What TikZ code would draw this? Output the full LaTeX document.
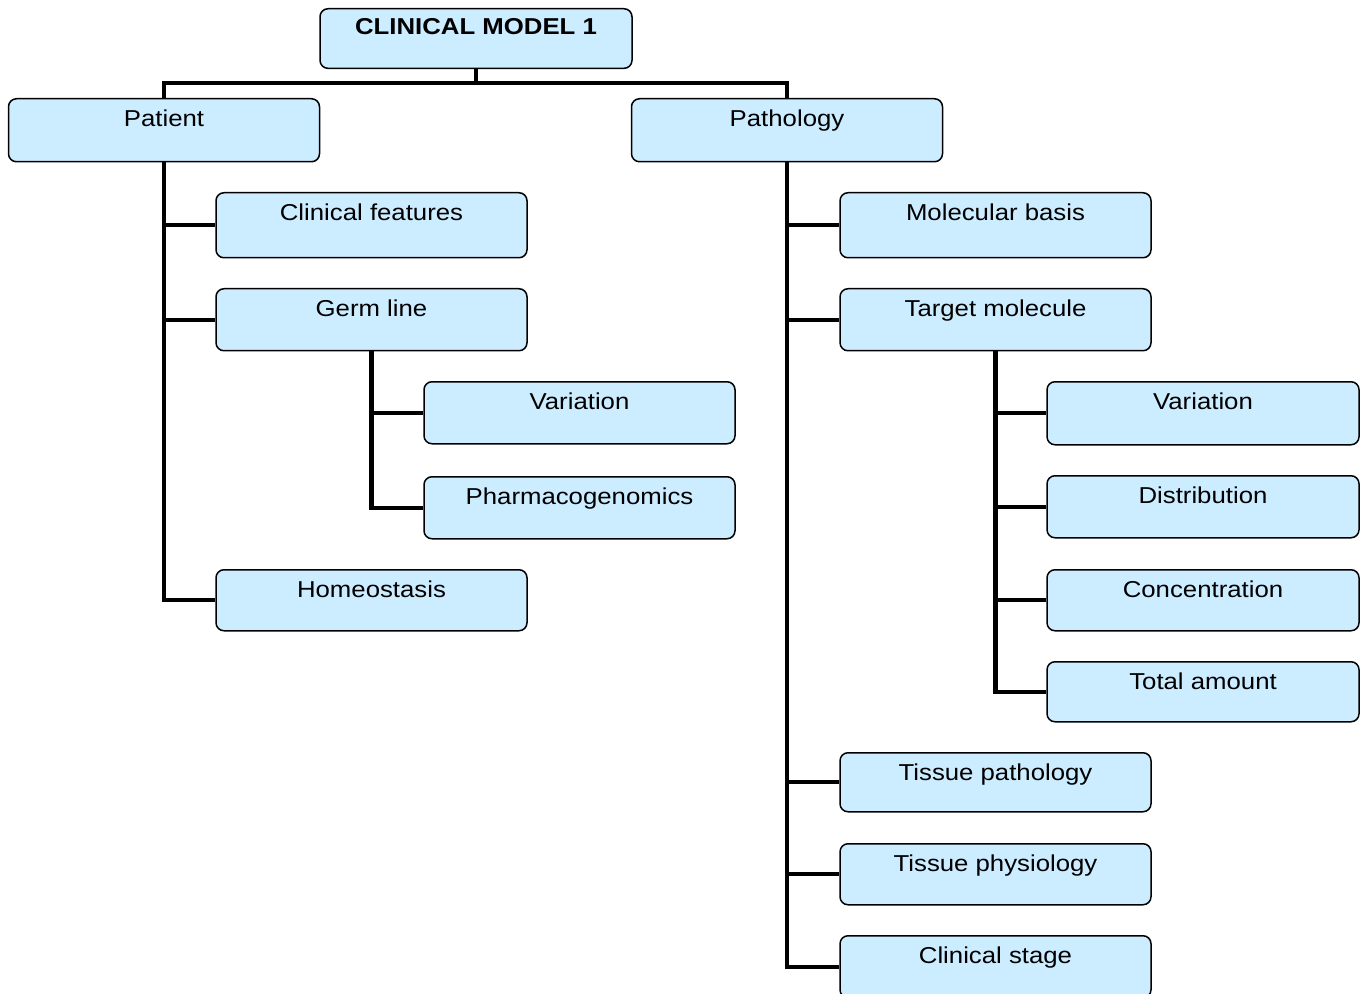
\documentclass[tikz,border=0pt]{standalone}
\usepackage{fontspec}
\setmainfont{Liberation Sans}[FakeStretch=1.12]
\begin{document}
\begin{tikzpicture}[x=0.5pt,y=-0.5pt,
  bx/.style={draw=black, line width=0.75pt, fill=boxfill, rounded corners=4pt,
    minimum width=155.5pt, inner sep=0pt, text height=14pt, text depth=#1, anchor=north,
    font=\fontsize{11.5pt}{13pt}\selectfont},
  bx/.default=17pt,
  ln/.style={line width=2.2pt, line join=miter}]
\definecolor{boxfill}{HTML}{CCECFF}
\useasboundingbox (0,0) rectangle (1369,994);
% boxes
\node[bx=17pt, text height=12.8pt, minimum width=156pt, font=\fontsize{11.5pt}{13pt}\selectfont\bfseries] (top) at (476,8) {CLINICAL MODEL 1};
\node[bx=17.5pt] (patient) at (164,98) {Patient};
\node[bx=17.5pt] (pathology) at (787,98) {Pathology};
\node[bx=18.5pt] (cf) at (371.5,192) {Clinical features};
\node[bx] (germ) at (371.5,288) {Germ line};
\node[bx] (var1) at (579.5,381) {Variation};
\node[bx] (pharm) at (579.5,476) {Pharmacogenomics};
\node[bx=16.5pt] (homeo) at (371.5,569) {Homeostasis};
\node[bx=18.5pt] (mol) at (995.5,192) {Molecular basis};
\node[bx] (target) at (995.5,288) {Target molecule};
\node[bx=17.5pt, minimum width=156pt] (var2) at (1203,381) {Variation};
\node[bx, minimum width=156pt] (dist) at (1203,475) {Distribution};
\node[bx=16.5pt, minimum width=156pt] (conc) at (1203,569) {Concentration};
\node[bx=16pt, minimum width=156pt] (total) at (1203,661) {Total amount};
\node[bx=15.5pt] (tpath) at (995.5,752) {Tissue pathology};
\node[bx=16.5pt] (tphys) at (995.5,843) {Tissue physiology};
\node[bx] (stage) at (995.5,935) {Clinical stage};
% connectors
\coordinate (j) at (476,83);
\draw[ln] (top.south) -- (j);
\draw[ln] (patient.north) |- (j) -| (pathology.north);
\foreach \c in {cf,germ,homeo} \draw[ln] (patient.south) |- (\c.west);
\foreach \c in {var1,pharm} \draw[ln] (germ.south) |- (\c.west);
\foreach \c in {mol,target,tpath,tphys,stage} \draw[ln] (pathology.south) |- (\c.west);
\foreach \c in {var2,dist,conc,total} \draw[ln] (target.south) |- (\c.west);
\end{tikzpicture}
\end{document}
